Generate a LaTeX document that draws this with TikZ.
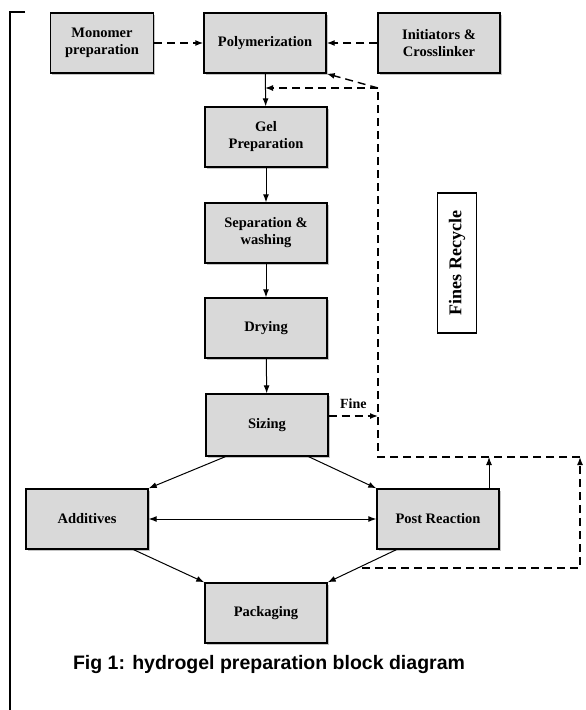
\documentclass[tikz,border=0pt]{standalone}
\usepackage{fontspec}
\setmainfont{Liberation Serif}
\newfontfamily\capfont{Liberation Sans}
\usepackage{tikz}
\usetikzlibrary{arrows, arrows.meta, positioning, calc, shadows}
\definecolor{boxgray}{RGB}{217, 217, 217}
\definecolor{shadowgray}{RGB}{140, 140, 140}

\begin{document}
\begin{tikzpicture}[x=1pt, y=-1pt,
    stagebox/.style={fill=boxgray, draw=black, line width=1.4pt, minimum width=122pt,
        minimum height=60pt, align=center, font=\fontsize{14.5}{17}\selectfont\bfseries,
        drop shadow={shadow xshift=1.5pt, shadow yshift=-1.5pt, fill=shadowgray}},
    flow/.style={-{Latex[length=8pt, width=6pt]}, line width=1pt},
    recycle/.style={dash pattern=on 8pt off 5pt, line width=1.4pt}]
    \useasboundingbox (0,0) rectangle (586,710);
    % frame
    \draw[line width=1.5pt] (25,12) -- (10,12) -- (10,710);

    % stages
    \node[stagebox, minimum width=103pt] (mono) at (102,43) {Monomer\\preparation};
    \node[stagebox] (poly) at (265,43) {Polymerization};
    \node[stagebox] (init) at (439,43) {Initiators \&\\Crosslinker};
    \node[stagebox] (gel) at (266,137) {Gel\\Preparation};
    \node[stagebox] (sep) at (266,233) {Separation \&\\washing};
    \node[stagebox] (dry) at (266,328) {Drying};
    \node[stagebox, minimum height=62pt] (siz) at (267,425) {Sizing};
    \node[stagebox] (add) at (87,519) {Additives};
    \node[stagebox] (post) at (438,519) {Post Reaction};
    \node[stagebox] (pack) at (266,613) {Packaging};
    \node[draw=black, line width=1.3pt, fill=white, minimum width=39pt, minimum height=140pt] (fines) at (457,263) {};
    \node[rotate=90, font=\fontsize{18}{20}\selectfont\bfseries] (finestxt) at (fines.center) {Fines Recycle};

    % recycle loop
    \coordinate (rtop) at (378,88);
    \coordinate (rbot) at (378,457);
    \coordinate (rright) at (580,457);
    \coordinate (rlow) at (580,568);
    \coordinate (rleft) at (362,568);

    % connectors
    \draw[recycle, -{Latex[length=8pt, width=6pt]}] (mono) -- (poly);
    \draw[recycle, -{Latex[length=8pt, width=6pt]}] (init) -- (poly);
    \draw[flow] (poly) -- (gel);
    \draw[flow] (gel) -- (sep);
    \draw[flow] (sep) -- (dry);
    \draw[flow] (dry) -- (siz);
    \draw[recycle, -{Latex[length=8pt, width=6pt]}] (rtop) -- (poly.south east);
    \draw[recycle, -{Latex[length=8pt, width=6pt]}] (rtop) -- (poly.south |- rtop);
    \draw[recycle] (rright) -- (rbot) -- (rtop);
    \draw[recycle, -{Latex[length=8pt, width=6pt]}] (rleft) -- (rlow) -- (rright);
    \draw[recycle, -{Latex[length=8pt, width=6pt]}] ([yshift=9pt]siz.east) -- ([yshift=9pt]siz.east -| rtop)
        node[midway, above=3pt, font=\fontsize{14}{16}\selectfont\bfseries] (finelbl) {Fine};
    \draw[flow] ([xshift=51pt]post.north) -- ([xshift=51pt]post.north |- rbot);
    \draw[flow] ([xshift=20pt]siz.south west) -- (add.north east);
    \draw[flow] ([xshift=-20pt]siz.south east) -- (post.north west);
    \draw[flow, {Latex[length=8pt, width=6pt]}-{Latex[length=8pt, width=6pt]}] (add) -- (post);
    \draw[flow] ([xshift=-15pt]add.south east) -- (pack.north west);
    \draw[flow] ([xshift=20pt]post.south west) -- (pack.north east);

    % caption
    \node[font=\capfont\fontsize{19.5}{22}\selectfont\bfseries] (caption) at (269,664) {Fig 1: hydrogel preparation block diagram};
\end{tikzpicture}
\end{document}
